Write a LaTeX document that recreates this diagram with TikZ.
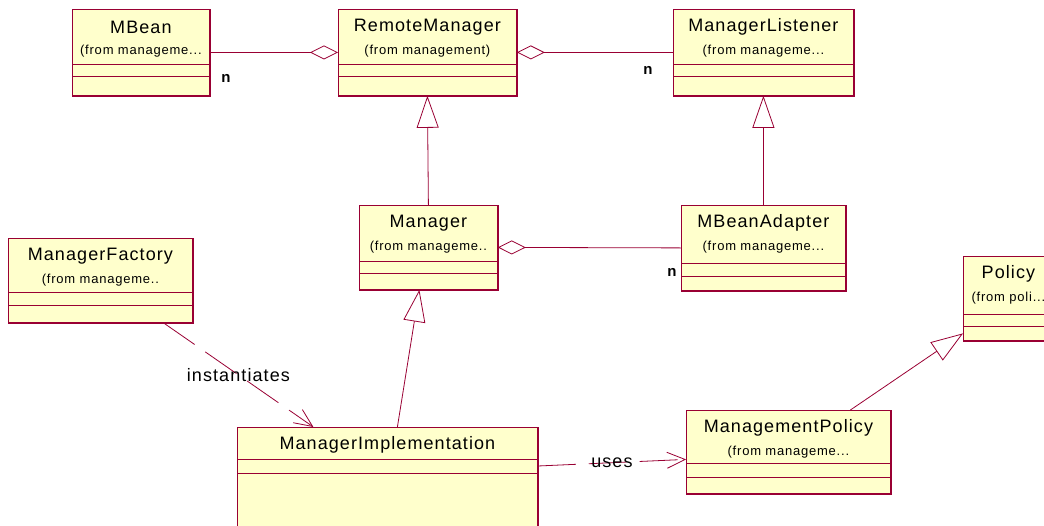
\documentclass[tikz,border=0pt]{standalone}
\usepackage{fontspec}
\setmainfont{Liberation Sans}
\newfontfamily\umlfont[LetterSpace=6]{Liberation Sans}
\usepackage{tikz}
\usetikzlibrary{arrows.meta,positioning,calc}
\definecolor{roseline}{RGB}{153,0,51}
\definecolor{rosefill}{RGB}{255,255,204}

\begin{document}
\begin{tikzpicture}[x=1pt,y=-1pt,
  cls/.style={draw=roseline,fill=rosefill,line width=0.8pt,inner sep=0pt,anchor=north west},
  sep/.style={draw=roseline,line width=0.8pt},
  edge/.style={draw=roseline,line width=1.6pt},
  ttl/.style={font=\umlfont\fontsize{18}{21}\selectfont,inner sep=0pt},
  sub/.style={font=\umlfont\fontsize{13}{15}\selectfont,inner sep=0pt},
  mult/.style={font=\bfseries\fontsize{15}{17}\selectfont,inner sep=0pt},
  lab/.style={font=\umlfont\fontsize{18}{21}\selectfont,inner sep=0pt},
  rel/.style={draw=roseline,line width=0.8pt},
  agg/.style={rel,-{Diamond[open,fill=white,length=28pt,width=14pt]}},
  gen/.style={rel,-{Triangle[open,fill=white,length=32pt,width=22pt]}},
  dep/.style={rel,dash pattern=on 38pt off 13pt,-{Straight Barb[length=18pt,width=16pt]}}]
  \useasboundingbox (0,0) rectangle (1044,525);
  \clip (0,0) rectangle (1044,525);
  % class boxes: name/left/top/right/bottom/sep1/sep2/title/package
  \foreach \n/\l/\t/\r/\b/\sa/\sb/\ti/\su in {
    mbean/72/9/209/95/64/76/MBean/{(from manageme...},
    remote/338/9/516/95/64/76/RemoteManager/{(from management)},
    listener/673/9/853/95/64/76/ManagerListener/{(from manageme...},
    manager/359/205/497/289/261/273/Manager/{(from manageme..},
    adapter/681/205/845/290/263/276/MBeanAdapter/{(from manageme...},
    factory/8/238/192/322/292/305/ManagerFactory/{(from manageme..},
    policy/963/256/1053/340/314/326/Policy/{(from poli...},
    mpolicy/686/410/890/493/463/477/ManagementPolicy/{(from manageme...},
    impl/237/427/537/540/459/473/ManagerImplementation/{}}{
    \node[cls,minimum width={(\r-\l)*1pt},minimum height={(\b-\t)*1pt}] (\n) at (\l,\t) {};
    \draw[edge] (\n.north east) -- (\n.south east) -- (\n.south west);
    \draw[sep] (\n.west |- 0,\sa) -- (\n.east |- 0,\sa);
    \draw[sep] (\n.west |- 0,\sb) -- (\n.east |- 0,\sb);
    \node[ttl] (\n-t) at ($(\n.north)+(0,18)$) {\ti};
    \node[sub] (\n-s) at ($(\n.north)+(0,42)$) {\su};
  }
  % aggregations
  \draw[agg] (mbean.east) -- (remote.west);
  \draw[agg] (listener.west) -- (remote.east);
  \draw[agg] (adapter.west) -- (manager.east);
  \node[mult] (n-mbean) at (226,78) {n};
  \node[mult] (n-listener) at (648,70) {n};
  \node[mult] (n-adapter) at (672,272) {n};
  % generalizations
  \draw[gen] (manager.north) -- (remote.south);
  \draw[gen] (adapter.north) -- (listener.south);
  \draw[gen] ([xshift=10pt]impl.north) -- ([xshift=-9pt]manager.south);
  \draw[gen] ([xshift=62pt]mpolicy.north) -- ([yshift=-35pt]policy.west);
  % dependencies
  \draw[dep] ([xshift=63pt]factory.south) -- node[lab] (inst) {instantiates} ([xshift=-74pt]impl.north);
  \draw[dep] ([yshift=-39pt]impl.north east) -- node[lab] (uses) {uses} ([yshift=-7.5pt]mpolicy.west);
\end{tikzpicture}
\end{document}
